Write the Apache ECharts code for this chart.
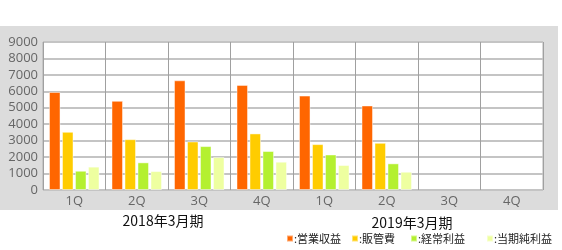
<!DOCTYPE html>
<html><head><meta charset="utf-8">
<script src="https://cdn.jsdelivr.net/npm/echarts@6/dist/echarts.min.js"></script>
<style>html,body{margin:0;padding:0;background:#fff}#c{width:562px;height:250px}</style>
</head><body><div id="c"></div>
<script>
var categories = ['1Q','2Q','3Q','4Q','1Q','2Q','3Q','4Q'];
var yearLabels = ['2018年3月期','2019年3月期'];
var seriesNames = ['営業収益','販管費','経常利益','当期純利益'];
var revenue = [5960, 5420, 6670, 6390, 5740, 5140, null, null];
var sga = [3540, 3090, 2950, 3440, 2790, 2870, null, null];
var ordinary = [1170, 1680, 2670, 2370, 2160, 1620, null, null];
var netIncome = [1420, 1150, 2000, 1720, 1520, 1110, null, null];
var colors = ['#ff6600','#ffcc00','#b4f030','#eeffa0'];

var values = [revenue, sga, ordinary, netIncome];
var legendLefts = [286, 351, 410, 486];
var chart = echarts.init(document.getElementById('c'), null, {renderer:'canvas'});
var series = seriesNames.map(function(n,i){
  return {name:n, type:'bar', data:values[i], barWidth:11.5, barGap:'13%',
    itemStyle:{color:colors[i], borderColor:'rgba(255,255,255,0.45)', borderWidth:1},
    emphasis:{disabled:true}, animation:false};
});
var legends = seriesNames.map(function(n,i){
  return {data:[n], left:legendLefts[i], top:233, icon:'rect', itemWidth:6, itemHeight:6, itemGap:0,
    padding:0, formatter:function(name){return ':'+name;},
    textStyle:{fontFamily:'"Noto Sans CJK JP", sans-serif', fontSize:11, color:'#222', padding:[0,0,0,-4]},
    selectedMode:false};
});
chart.setOption({
  animation:false,
  backgroundColor:'#fff',
  graphic:[
    {type:'rect', z:-10, shape:{x:0,y:26,width:558,height:184}, style:{fill:'#dcdcdc'}, silent:true},
    {type:'text', x:163, y:221, style:{text:yearLabels[0], fill:'#111', font:'14px "Noto Sans CJK JP", sans-serif', align:'center', verticalAlign:'middle'}},
    {type:'text', x:412, y:223, style:{text:yearLabels[1], fill:'#111', font:'14px "Noto Sans CJK JP", sans-serif', align:'center', verticalAlign:'middle'}}
  ],
  legend: legends,
  grid:{left:43, right:19, top:42, bottom:60, show:true, backgroundColor:'#fff', borderColor:'#b0b0b0', borderWidth:1, containLabel:false},
  xAxis:{type:'category', data:categories, boundaryGap:true,
    axisLine:{show:false}, axisTick:{show:false},
    axisLabel:{color:'#666', fontFamily:'"Open Sans", sans-serif', fontSize:13, margin:5},
    splitLine:{show:true, lineStyle:{color:'#a0a0a0', width:1}}},
  yAxis:{type:'value', min:0, max:9000, interval:1000,
    axisLine:{show:false}, axisTick:{show:false},
    axisLabel:{color:'#666', fontFamily:'"Open Sans", sans-serif', fontSize:13, margin:5,
      formatter:function(v){return String(v);}},
    splitLine:{show:true, lineStyle:{color:'#c4c4c4', width:2}}},
  series: series
});
</script></body></html>
